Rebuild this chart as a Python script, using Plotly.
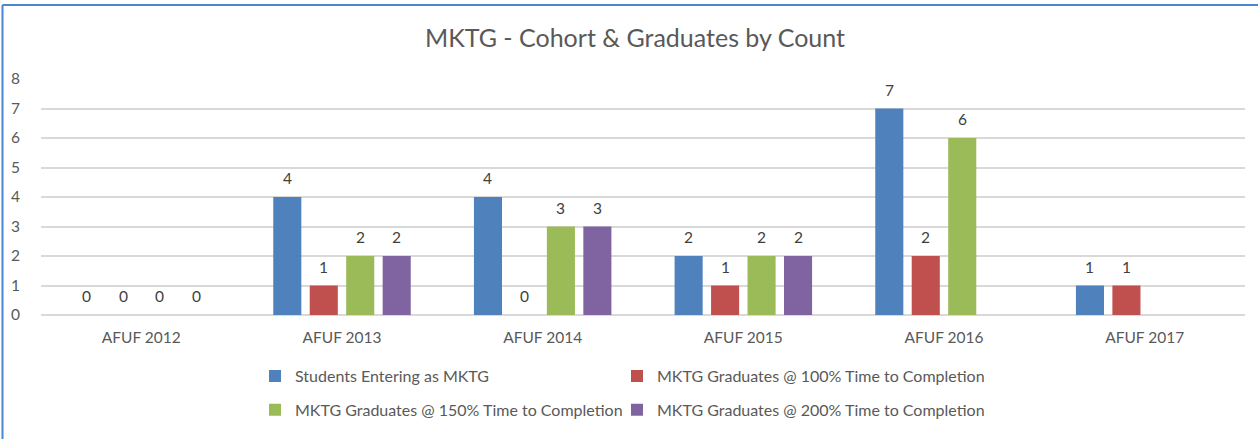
import plotly.graph_objects as go

categories = ["AFUF 2012", "AFUF 2013", "AFUF 2014", "AFUF 2015", "AFUF 2016", "AFUF 2017"]
series_names = [
    "Students Entering as MKTG",
    "MKTG Graduates @ 100% Time to Completion",
    "MKTG Graduates @ 150% Time to Completion",
    "MKTG Graduates @ 200% Time to Completion",
]
entering = [0, 4, 4, 2, 7, 1]
grad_100 = [0, 1, 0, 1, 2, 1]
grad_150 = [0, 2, 3, 2, 6, None]
grad_200 = [0, 2, 3, 2, None, None]
y_ticks = [0, 1, 2, 3, 4, 5, 6, 7, 8]

series_values = [entering, grad_100, grad_150, grad_200]
colors = ["#4F81BD", "#C0504D", "#9BBB59", "#8064A2"]

W, H = 1258, 439
ML, MR, MT, MB = 41, 13, 79, 121
PW, PH = W - ML - MR, H - MT - MB
FONT = "Lato"
GRAY = "#595959"
BARGAP = 0.273
BARGROUPGAP = 0.23

legend_ids = ["legend", "legend2", "legend3", "legend4"]

fig = go.Figure()
for name, vals, col, lg in zip(series_names, series_values, colors, legend_ids):
    fig.add_trace(go.Bar(
        x=categories, y=vals, name=name, marker_color=col,
        marker_line_width=0, legend=lg,
    ))

# data labels
slot_px = PW / len(categories) * (1 - BARGAP) / len(series_values)
annotations = []
for i, vals in enumerate(series_values):
    for cat, v in zip(categories, vals):
        if v is None:
            continue
        annotations.append(dict(
            x=cat, y=v, xref="x", yref="y", text=str(v), showarrow=False,
            xshift=(i - (len(series_values) - 1) / 2) * slot_px, yshift=19,
            font=dict(family=FONT, size=15.5, color="#404040"),
        ))

def py(pix):
    return (H - MB - pix) / PH

def px(pix):
    return (pix - ML) / PW

shapes = [
    dict(type="line", xref="paper", yref="paper", x0=px(2.5), x1=px(W + 5), y0=py(4), y1=py(4),
         line=dict(color="#4A86D0", width=2)),
    dict(type="line", xref="paper", yref="paper", x0=px(2.5), x1=px(2.5), y0=py(4), y1=py(H + 5),
         line=dict(color="#4A86D0", width=2)),
]

legend_common = dict(
    orientation="h", xanchor="left", yanchor="middle",
    font=dict(family=FONT, size=16, color=GRAY),
    bgcolor="rgba(0,0,0,0)",
)

fig.update_layout(
    width=W, height=H,
    margin=dict(l=ML, r=MR, t=MT, b=MB, pad=0),
    paper_bgcolor="white", plot_bgcolor="white",
    barmode="group", bargap=BARGAP, bargroupgap=BARGROUPGAP,
    title=dict(text="MKTG - Cohort & Graduates by Count", x=635 / W, xref="container",
               xanchor="center", y=1 - 38 / H, yref="container", yanchor="middle",
               font=dict(family=FONT, size=25, color=GRAY)),
    font=dict(family=FONT, size=15.5, color=GRAY),
    showlegend=True,
    legend=dict(x=px(255), y=py(380), **legend_common),
    legend2=dict(x=px(617), y=py(380), **legend_common),
    legend3=dict(x=px(255), y=py(414), **legend_common),
    legend4=dict(x=px(617), y=py(414), **legend_common),
    annotations=annotations,
    shapes=shapes,
    xaxis=dict(showgrid=False, showline=False, ticks="", ticklabelstandoff=11,
               tickfont=dict(family=FONT, size=15.5, color=GRAY), fixedrange=True),
    yaxis=dict(range=[0, 8], tickvals=y_ticks, showgrid=True, gridcolor="#D9D9D9", gridwidth=1.5,
               zeroline=True, zerolinecolor="#D9D9D9", zerolinewidth=1.5, showline=False,
               ticks="", ticklabelstandoff=20,
               tickfont=dict(family=FONT, size=15.5, color=GRAY), fixedrange=True),
)

fig.write_html("out.html", config={"displayModeBar": False},
               post_script="document.body.style.margin='0';")
